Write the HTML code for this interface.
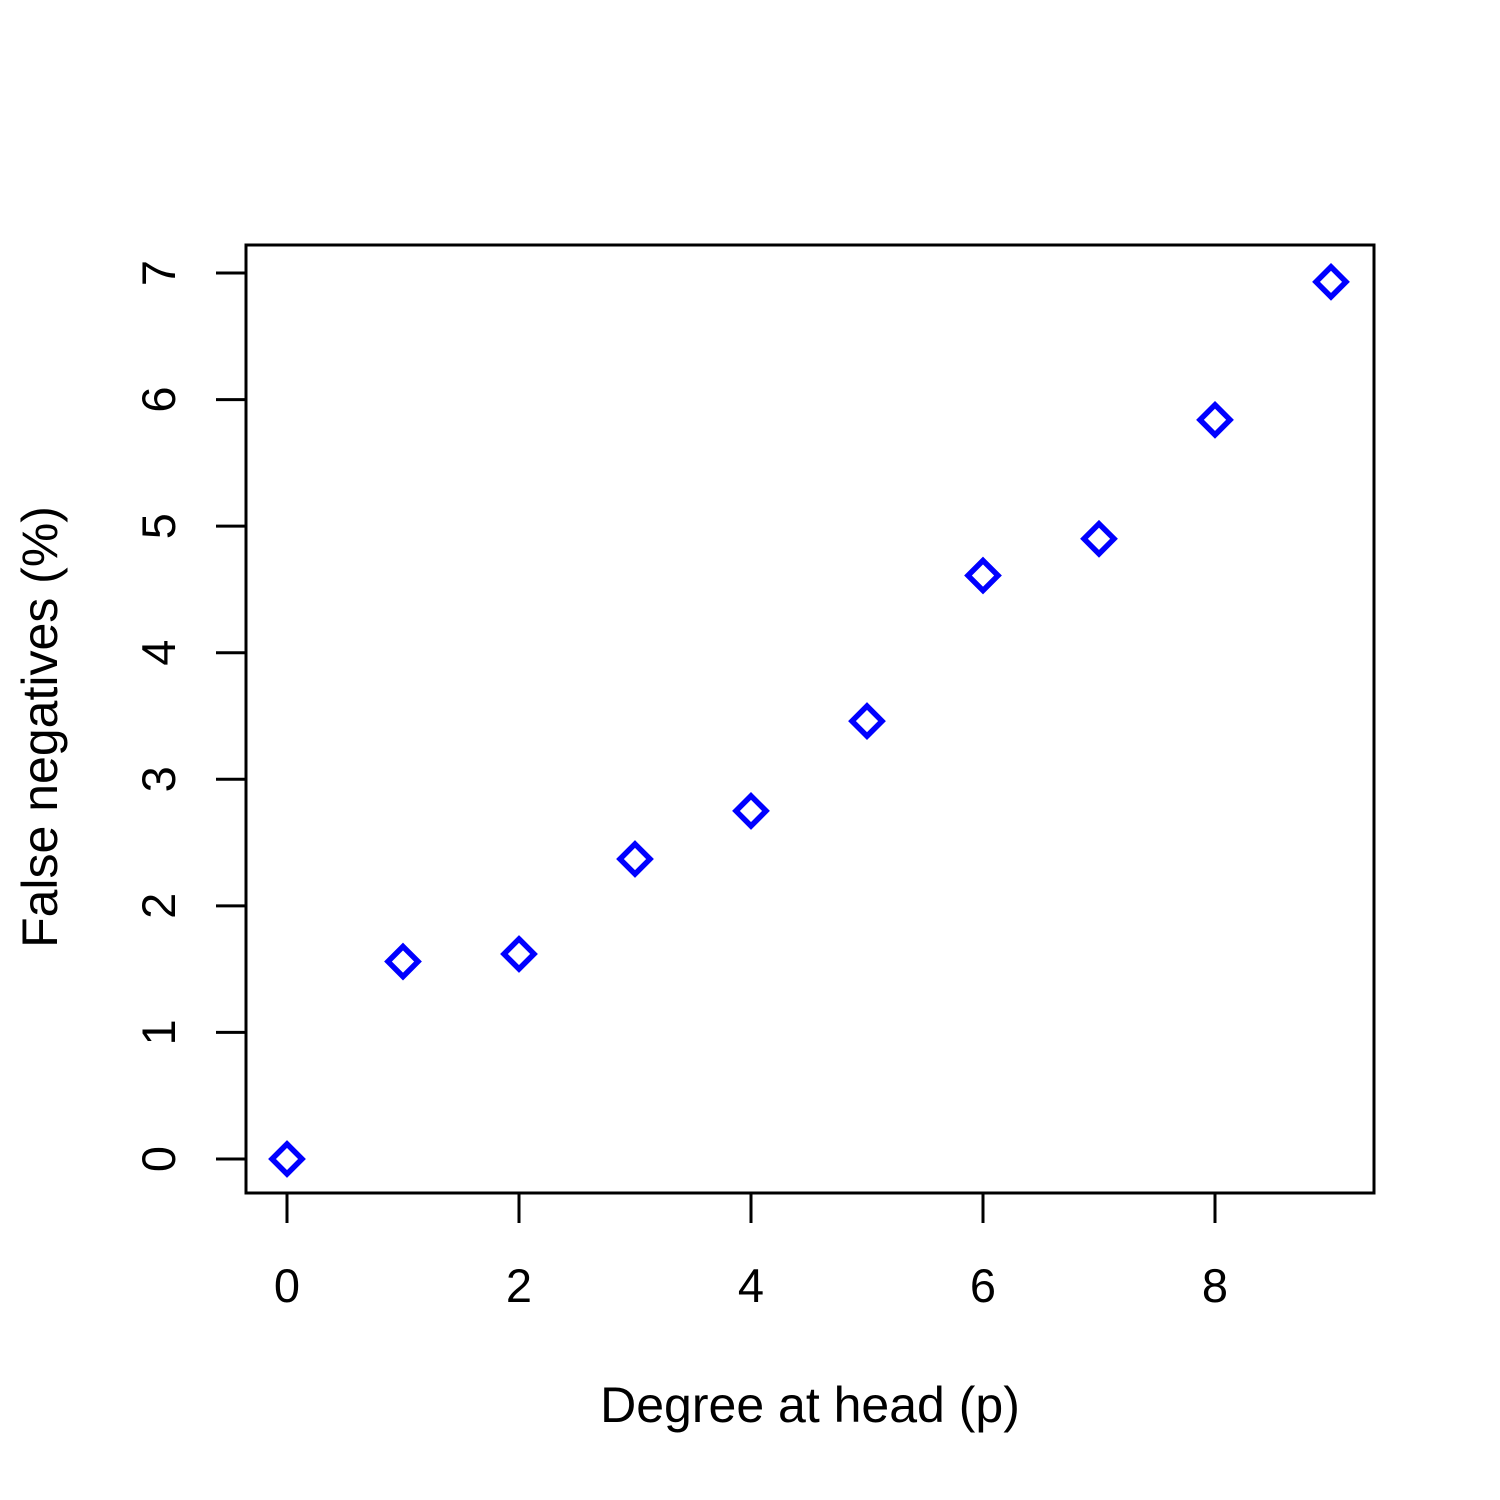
<!DOCTYPE html>
<html><head><meta charset="utf-8"><style>
html,body{margin:0;padding:0;background:#fff;}
svg{display:block;font-family:"Liberation Sans",Arial,sans-serif;}
</style></head><body>
<svg id="chart" width="1500" height="1500" viewBox="0 0 1500 1500">
<rect x="0" y="0" width="1500" height="1500" fill="#fff"/>
<rect x="246" y="245" width="1128" height="948" fill="none" stroke="#000" stroke-width="3"/>
<g id="xaxis"></g>
<g id="yaxis"></g>
<g id="points"></g>
<text x="810" y="1422" font-size="50" text-anchor="middle">Degree at head (p)</text>
<text transform="translate(57,727) rotate(-90)" font-size="50" text-anchor="middle">False negatives (%)</text>
</svg>
<script>
const xTicks = [0, 2, 4, 6, 8];
const yTicks = [0, 1, 2, 3, 4, 5, 6, 7];
const degrees = [0, 1, 2, 3, 4, 5, 6, 7, 8, 9];
const falseNeg = [0, 1.56, 1.62, 2.37, 2.75, 3.46, 4.61, 4.90, 5.84, 6.93];

const NS = "http://www.w3.org/2000/svg";
function sx(v){ return 287 + v * 116; }
function sy(v){ return 1159 - v * 126.57; }
function mk(tag, attrs, parent){
  const e = document.createElementNS(NS, tag);
  for (const k in attrs) e.setAttribute(k, attrs[k]);
  parent.appendChild(e);
  return e;
}
const xa = document.getElementById('xaxis');
const ya = document.getElementById('yaxis');
const pts = document.getElementById('points');

mk('line', {x1: sx(xTicks[0]), x2: sx(xTicks[xTicks.length-1]), y1: 1193, y2: 1193, stroke: '#000', 'stroke-width': 3}, xa);
xTicks.forEach(t => {
  const l = mk('line', {x1: sx(t), x2: sx(t), y1: 1193, y2: 1223, stroke: '#000', 'stroke-width': 3}, xa);
  
  
  const tx = mk('text', {x: sx(t), y: 1302, 'font-size': 47, 'text-anchor': 'middle'}, xa);
  tx.textContent = t;
  
  
});

mk('line', {x1: 246, x2: 246, y1: sy(yTicks[0]), y2: sy(yTicks[yTicks.length-1]), stroke: '#000', 'stroke-width': 3}, ya);
yTicks.forEach(t => {
  const l = mk('line', {x1: 216, x2: 246, y1: sy(t), y2: sy(t), stroke: '#000', 'stroke-width': 3}, ya);
  
  
  const tx = mk('text', {transform: 'translate(175,' + sy(t) + ') rotate(-90)', 'font-size': 47, 'text-anchor': 'middle'}, ya);
  tx.textContent = t;
  
  
});

degrees.forEach((d, i) => {
  const cx = sx(d), cy = sy(falseNeg[i]), r = 15;
  const p = mk('polygon', {points: `${cx},${cy-r} ${cx+r},${cy} ${cx},${cy+r} ${cx-r},${cy}`, fill: 'none', stroke: '#0000ff', 'stroke-width': 5.5}, pts);
  
  
});
</script>
</body></html>
